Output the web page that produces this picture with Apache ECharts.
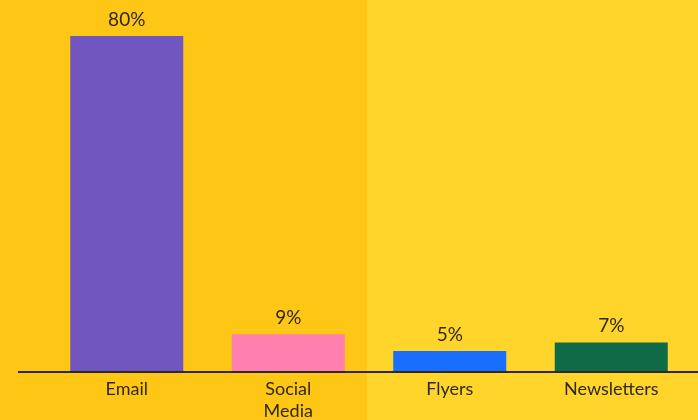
<!DOCTYPE html>
<html>
<head>
<meta charset="utf-8">
<script src="https://cdn.jsdelivr.net/npm/echarts@6/dist/echarts.min.js"></script>
<style>
  html, body { margin: 0; padding: 0; }
  #chart { width: 698px; height: 420px; }
</style>
</head>
<body>
<div id="chart"></div>
<script>
  const categories = ['Email', 'Social\nMedia', 'Flyers', 'Newsletters']
  const shares = [80, 9, 5, 7]
  const barColors = ['#7056BE', '#FF80AE', '#1A6EFF', '#0E6B45']

  const chart = echarts.init(document.getElementById('chart'))
  chart.setOption({
    animation: false,
    backgroundColor: '#FFD42B',
    graphic: [
      {
        type: 'rect',
        z: -10,
        shape: { x: 0, y: 0, width: 367, height: 420 },
        style: { fill: '#FEC715' },
      },
      {
        // baseline runs past the plot on both sides
        type: 'line',
        z: 10,
        shape: { x1: 18, y1: 372, x2: 698, y2: 372 },
        style: { stroke: '#2E2A1E', lineWidth: 2 },
      },
    ],
    grid: { left: 46, width: 646, top: 36, bottom: 48, outerBoundsMode: 'none' },
    xAxis: {
      type: 'category',
      data: categories,
      axisLine: { show: false },
      axisTick: { show: false },
      axisLabel: {
        color: '#30291A',
        fontSize: 18,
        fontFamily: 'Lato',
        lineHeight: 22,
        margin: 6,
      },
    },
    yAxis: {
      type: 'value',
      min: 0,
      max: 80,
      show: false,
      splitLine: { show: false },
    },
    series: [
      {
        type: 'bar',
        barWidth: 113,
        data: shares.map((v, i) => ({ value: v, itemStyle: { color: barColors[i] } })),
        label: {
          show: true,
          position: 'top',
          distance: 7,
          formatter: '{c}%',
          color: '#30291A',
          fontSize: 19,
          fontFamily: 'Lato',
        },
      },
    ],
  })
</script>
</body>
</html>
